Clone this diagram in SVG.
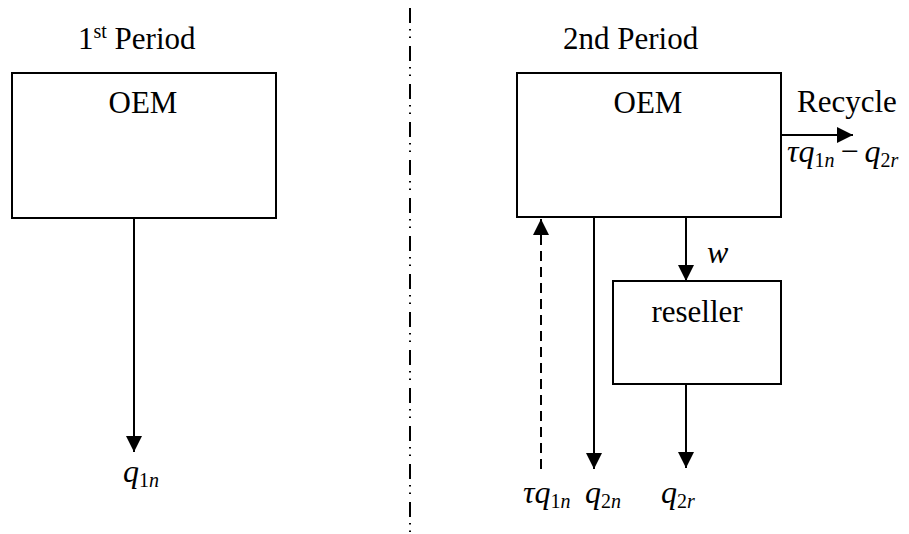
<svg xmlns="http://www.w3.org/2000/svg" width="909" height="534" viewBox="0 0 909 534">
<style>
.box{fill:#fff;stroke:#000;stroke-width:2}
.ln{stroke:#000;stroke-width:2;fill:none}
.t{font-family:"Liberation Serif","Times New Roman",serif;font-size:31px;fill:#000}
.m{font-family:"Liberation Serif","Times New Roman",serif;font-size:32px;fill:#000}
.i{font-style:italic}
.s{font-size:20px}
</style>
<defs>
<marker id="ah" markerWidth="16" markerHeight="16" viewBox="0 0 16 16" refX="16" refY="8" orient="auto" markerUnits="userSpaceOnUse">
<path d="M0,0 L16,8 L0,16 Z" fill="#000"/>
</marker>
</defs>
<line class="ln" x1="410" y1="8" x2="410" y2="534" stroke-dasharray="15 6 1.5 6 1.5 8"/>
<text class="t" x="78" y="49">1<tspan font-size="20" dy="-11">st</tspan><tspan dy="11"> Period</tspan></text>
<text class="t" x="563" y="49">2nd Period</text>
<g id="oem1">
<rect class="box" x="12" y="73" width="264" height="145"/>
<text class="t" x="143" y="113" text-anchor="middle">OEM</text>
</g>
<g id="oem2">
<rect class="box" x="517" y="73" width="264" height="144"/>
<text class="t" x="648" y="113" text-anchor="middle">OEM</text>
</g>
<g id="reseller">
<rect class="box" x="613" y="281" width="168" height="103"/>
<text class="t" x="697" y="322" text-anchor="middle">reseller</text>
</g>
<g id="connectors">
<line class="ln" x1="134" y1="218" x2="134" y2="452" marker-end="url(#ah)"/>
<line class="ln" x1="781" y1="135" x2="853" y2="135" marker-end="url(#ah)"/>
<line class="ln" x1="686" y1="217" x2="686" y2="281" marker-end="url(#ah)"/>
<line class="ln" x1="686" y1="384" x2="686" y2="468" marker-end="url(#ah)"/>
<line class="ln" x1="594" y1="217" x2="594" y2="469" marker-end="url(#ah)"/>
<line class="ln" x1="541" y1="469" x2="541" y2="219" stroke-dasharray="10 6" marker-end="url(#ah)"/>
</g>
<text class="t" x="797" y="112">Recycle</text>
<text class="m" x="787" y="162"><tspan class="i">τq</tspan><tspan class="s" dy="5">1</tspan><tspan class="s i">n</tspan><tspan dy="-5" dx="6">−</tspan><tspan class="i" dx="6">q</tspan><tspan class="s" dy="5">2</tspan><tspan class="s i">r</tspan></text>
<text class="m i" x="707" y="263">w</text>
<text class="m" x="123" y="482"><tspan class="i">q</tspan><tspan class="s" dy="5">1</tspan><tspan class="s i">n</tspan></text>
<text class="m" x="523" y="503"><tspan class="i">τq</tspan><tspan class="s" dy="5">1</tspan><tspan class="s i">n</tspan></text>
<text class="m" x="585" y="503"><tspan class="i">q</tspan><tspan class="s" dy="5">2</tspan><tspan class="s i">n</tspan></text>
<text class="m" x="661" y="503"><tspan class="i">q</tspan><tspan class="s" dy="5">2</tspan><tspan class="s i">r</tspan></text>
</svg>
